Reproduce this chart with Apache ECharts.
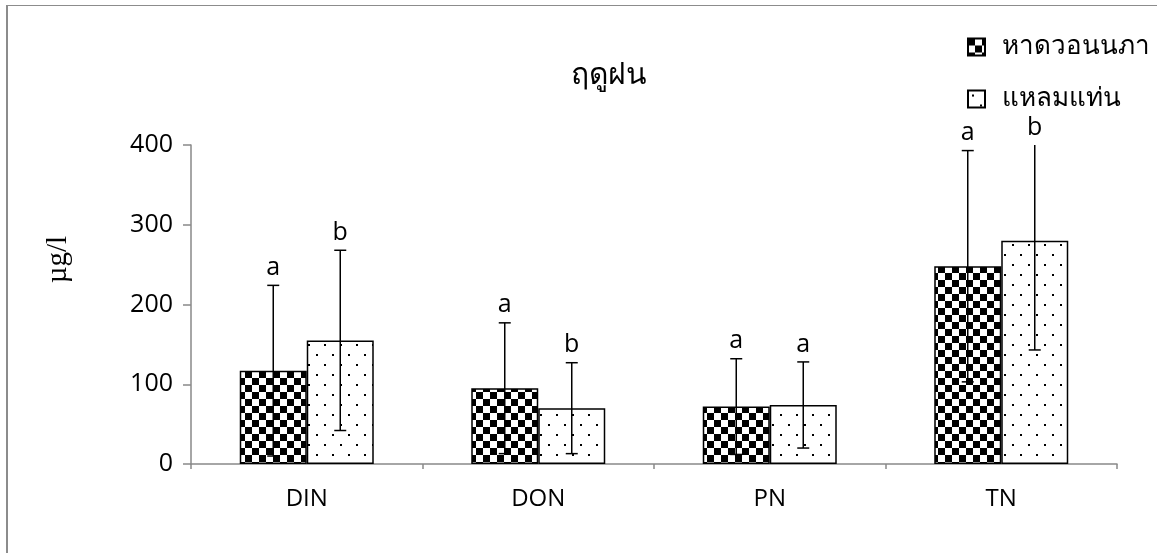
<!DOCTYPE html>
<html>
<head>
<meta charset="utf-8">
<script src="https://cdn.jsdelivr.net/npm/echarts@6/dist/echarts.min.js"></script>
<style>html,body{margin:0;padding:0;background:#fff}#c{width:1157px;height:553px}</style>
</head>
<body>
<div id="c"></div>
<script>
const categories = ['DIN', 'DON', 'PN', 'TN'];
const seriesNames = ['หาดวอนนภา', 'แหลมแท่น'];
const hadMean = [117, 95, 72, 248];
const hadSD = [107, 82, 60, 145];
const hadLetters = ['a', 'a', 'a', 'a'];
const laemMean = [155, 70, 74, 280];
const laemSD = [113, 57, 54, 137];
const laemLetters = ['b', 'b', 'a', 'b'];
const yTicks = [0, 100, 200, 300, 400];
const titleText = 'ฤดูฝน';
const yName = 'µg/l';

function checker() {
  const c = document.createElement('canvas');
  c.width = 14; c.height = 14;
  const g = c.getContext('2d');
  g.fillStyle = '#fff'; g.fillRect(0, 0, 14, 14);
  g.fillStyle = '#000'; g.fillRect(0, 0, 7, 7); g.fillRect(7, 7, 7, 7);
  return c;
}
function dots() {
  const c = document.createElement('canvas');
  c.width = 16; c.height = 20;
  const g = c.getContext('2d');
  g.fillStyle = '#fff'; g.fillRect(0, 0, 16, 20);
  g.fillStyle = '#000'; g.fillRect(4, 4, 2, 2); g.fillRect(12, 14, 2, 2);
  return c;
}
const patA = { image: checker(), repeat: 'repeat' };
const patB = { image: dots(), repeat: 'repeat' };

const BAR_W = 67;
const YMAX = yTicks[yTicks.length - 1];

function errRender(offsetSign, letters) {
  return function (params, api) {
    const ci = api.value(0), m = api.value(1), sd = api.value(2);
    const letter = letters[params.dataIndex];
    const topV = Math.min(m + sd, YMAX);
    const clipped = m + sd > YMAX;
    const botV = Math.max(m - sd, 0);
    const pT = api.coord([ci, topV]);
    const pB = api.coord([ci, botV]);
    const x = pT[0] + offsetSign * BAR_W / 2;
    const cap = 6;
    const ls = { stroke: '#000', lineWidth: 1.5 };
    const children = [
      { type: 'line', shape: { x1: x, y1: pT[1], x2: x, y2: pB[1] }, style: ls },
      { type: 'line', shape: { x1: x - cap, y1: pB[1], x2: x + cap, y2: pB[1] }, style: ls }
    ];
    if (!clipped) children.push({ type: 'line', shape: { x1: x - cap, y1: pT[1], x2: x + cap, y2: pT[1] }, style: ls });
    children.push({ type: 'text', x: x, y: pT[1] - 5, style: { text: letter, fill: '#000', fontSize: 25, fontFamily: 'Open Sans', align: 'center', verticalAlign: 'bottom' } });
    return { type: 'group', children: children };
  };
}

const chart = echarts.init(document.getElementById('c'));
chart.setOption({
  animation: false,
  backgroundColor: '#fff',
  title: { text: titleText, left: 604, top: 55, textAlign: 'center', textStyle: { fontSize: 30, fontWeight: 'normal', color: '#000', fontFamily: 'Noto Sans, sans-serif' } },
  legend: {
    orient: 'vertical', left: 967, top: 34, padding: 0, itemWidth: 17, itemHeight: 17, itemGap: 26,
    icon: 'rect', data: seriesNames,
    textStyle: { fontSize: 26, color: '#000', fontFamily: 'Noto Sans, sans-serif', padding: [0, 0, 0, 12] }
  },
  grid: { left: 191, right: 40, top: 145, bottom: 89 },
  xAxis: {
    type: 'category', data: categories,
    axisLine: { lineStyle: { color: '#898989', width: 1.5 } },
    axisTick: { show: true, length: 5, lineStyle: { color: '#898989', width: 1.5 } },
    axisLabel: { fontSize: 24, color: '#000', fontFamily: 'Open Sans, sans-serif', margin: 23 }
  },
  yAxis: {
    type: 'value', min: 0, max: YMAX, interval: 100,
    name: yName, nameLocation: 'middle', nameRotate: 90, nameGap: 118,
    nameTextStyle: { fontSize: 29, color: '#000', fontFamily: 'Liberation Serif, serif', padding: [0, 0, 0, 90] },
    axisLine: { show: true, lineStyle: { color: '#898989', width: 1.5 } },
    axisTick: { show: true, length: 8, lineStyle: { color: '#898989', width: 1.5 } },
    splitLine: { show: false },
    axisLabel: { fontSize: 25, color: '#000', fontFamily: 'Open Sans, sans-serif', margin: 18 }
  },
  graphic: [
    { type: 'line', shape: { x1: 7, y1: 5.5, x2: 1157, y2: 5.5 }, style: { stroke: '#8c8c8c', lineWidth: 1.2 } },
    { type: 'line', shape: { x1: 7, y1: 5, x2: 7, y2: 553 }, style: { stroke: '#8c8c8c', lineWidth: 2 } }
  ],
  series: [
    { name: seriesNames[0], type: 'bar', data: hadMean, barWidth: BAR_W, barGap: '0%',
      itemStyle: { color: patA, borderColor: '#000', borderWidth: 1.5 } },
    { name: seriesNames[1], type: 'bar', data: laemMean, barWidth: BAR_W, barGap: '0%',
      itemStyle: { color: patB, borderColor: '#000', borderWidth: 1.5 } },
    { type: 'custom', renderItem: errRender(-1, hadLetters), clip: false, z: 10,
      data: categories.map((c, i) => [i, hadMean[i], hadSD[i]]) },
    { type: 'custom', renderItem: errRender(1, laemLetters), clip: false, z: 10,
      data: categories.map((c, i) => [i, laemMean[i], laemSD[i]]) }
  ]
});
</script>
</body>
</html>
